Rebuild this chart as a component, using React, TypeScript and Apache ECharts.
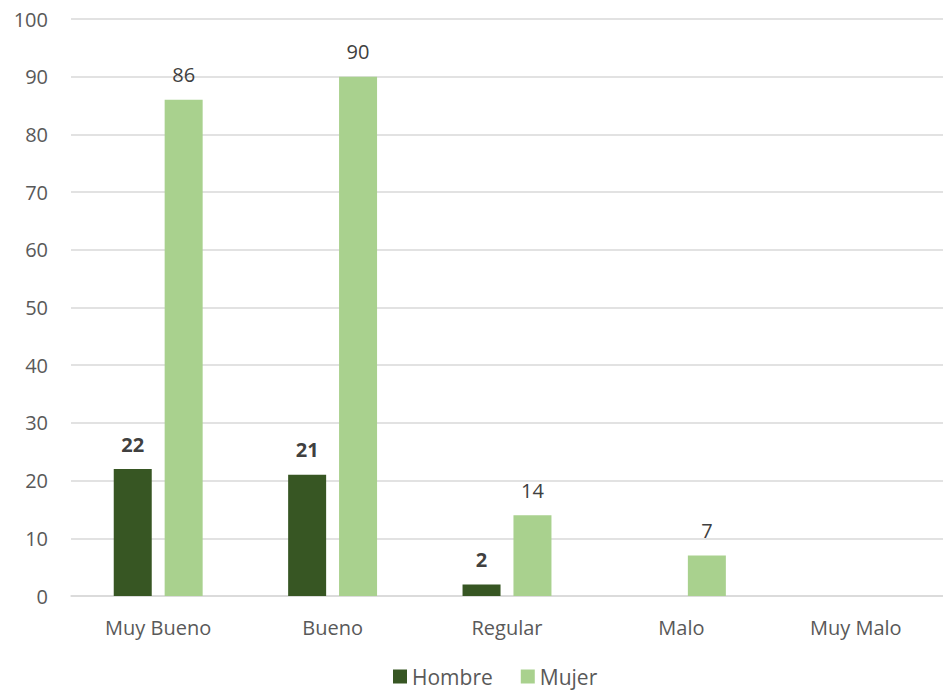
import React, { useEffect, useRef } from "react";
import * as echarts from "echarts";

const categories = ["Muy Bueno", "Bueno", "Regular", "Malo", "Muy Malo"];
const hombre: (number | null)[] = [22, 21, 2, null, null];
const mujer: (number | null)[] = [86, 90, 14, 7, null];
const yTicks = { min: 0, max: 100, interval: 10 };

export default function App() {
  const ref = useRef<HTMLDivElement>(null);
  useEffect(() => {
    if (!ref.current) return;
    const chart = echarts.init(ref.current, undefined, { renderer: "svg" });
    const font = "'Open Sans', 'Noto Sans', sans-serif";
    chart.setOption({
      animation: false,
      backgroundColor: "#ffffff",
      grid: { left: 71, top: 19, width: 877, height: 577, containLabel: false },
      legend: {
        bottom: 0,
        left: 388,
        itemWidth: 14,
        itemHeight: 14,
        itemGap: 28,
        icon: "rect",
        textStyle: { color: "#595959", fontSize: 21, fontFamily: font },
        data: ["Hombre", "Mujer"],
      },
      xAxis: {
        type: "category",
        data: categories,
        axisLine: { lineStyle: { color: "#d9d9d9", width: 1.5 } },
        axisTick: { show: false },
        axisLabel: { color: "#595959", fontSize: 20, fontFamily: font, margin: 21 },
      },
      yAxis: {
        type: "value",
        min: yTicks.min,
        max: yTicks.max,
        interval: yTicks.interval,
        axisLine: { show: false },
        axisTick: { show: false },
        splitLine: { lineStyle: { color: "#d9d9d9", width: 1.5 } },
        axisLabel: { color: "#595959", fontSize: 20, fontFamily: font, margin: 23 },
      },
      series: [
        {
          name: "Hombre",
          type: "bar",
          data: hombre,
          barWidth: 38,
          barGap: "34%",
          itemStyle: { color: "#375623" },
          label: {
            show: true,
            position: "top",
            distance: 15,
            color: "#404040",
            fontWeight: "bold",
            fontSize: 20,
            fontFamily: font,
          },
        },
        {
          name: "Mujer",
          type: "bar",
          data: mujer,
          barWidth: 38,
          itemStyle: { color: "#A9D18E" },
          label: {
            show: true,
            position: "top",
            distance: 15,
            color: "#404040",
            fontSize: 20,
            fontFamily: font,
          },
        },
      ],
    });
    return () => chart.dispose();
  }, []);
  return (
    <div
      ref={ref}
      style={{ position: "absolute", left: 0, top: 0, width: 943, height: 692 }}
    />
  );
}
